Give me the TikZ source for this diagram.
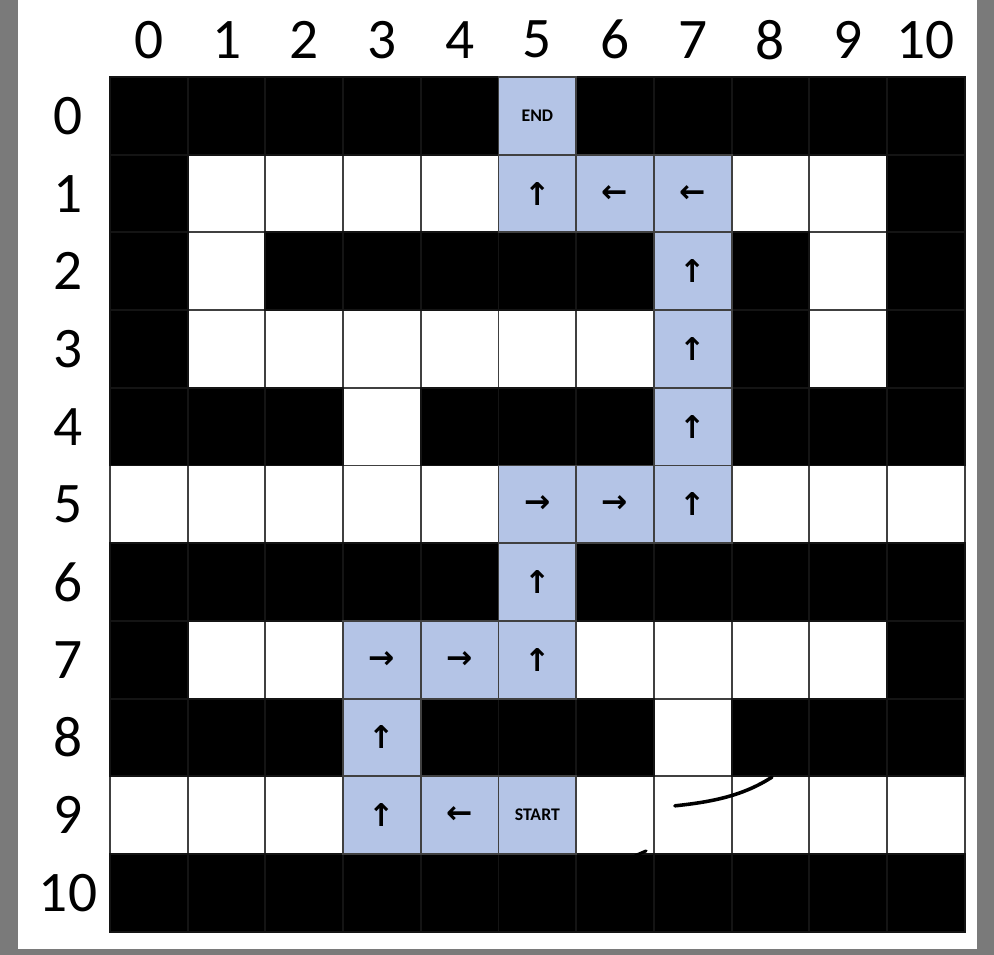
\documentclass[tikz,border=0pt]{standalone}
\usepackage{fontspec}
\setmainfont{Carlito}
\newfontfamily\arrowfont{DejaVu Sans}
\usepackage{xcolor}
\definecolor{pathblue}{HTML}{B4C4E6}
\definecolor{framegray}{HTML}{7A7A7A}

\begin{document}
\begin{tikzpicture}[
          x=1cm, y=-1cm,
          cell/.style={draw=black!75, line width=0.7pt, minimum size=1cm, inner sep=0pt, outer sep=0pt},
          free/.style={cell, fill=white},
          wall/.style={cell, draw=black!92, fill=black},
          route/.style={cell, fill=pathblue, font=\arrowfont\bfseries\fontsize{11.5}{12}\selectfont},
          tag/.style={route, font=\bfseries\fontsize{6.5}{7}\selectfont},
          idx/.style={font=\fontsize{21}{24}\selectfont}
      ]
        % Frame
        \useasboundingbox (-1.416,-0.991) rectangle (11.377,11.30);
        \fill[framegray] (-1.416,-0.991) rectangle (11.377,11.30);
        \fill[white] (-1.19,-0.991) rectangle (11.16,11.22);

        % Index labels
        \foreach \i in {0,...,10} {
          \node[idx] (col\i) at (\i+0.5,-0.48) {\i};
          \node[idx] (row\i) at (-0.54,\i+0.5) {\i};
        }

        % Open cells
        \foreach \r in {0,...,10} {
          \foreach \c in {0,...,10} {
            \node[free] (c-\r-\c) at (\c+0.5,\r+0.5) {};
          }
        }

        % Walls
        \foreach \r/\cols in {0/{0,1,2,3,4,6,7,8,9,10}, 1/{0,10}, 2/{0,2,3,4,5,6,8,10},
                              3/{0,8,10}, 4/{0,1,2,4,5,6,8,9,10}, 6/{0,1,2,3,4,6,7,8,9,10},
                              7/{0,10}, 8/{0,1,2,4,5,6,8,9,10}, 10/{0,1,2,3,4,5,6,7,8,9,10}} {
          \foreach \c in \cols {
            \node[wall] (c-\r-\c) at (\c+0.5,\r+0.5) {};
          }
        }

        % Route from START to END
        \foreach \r/\c/\sym in {1/5/{↑}, 1/6/{←}, 1/7/{←}, 2/7/{↑}, 3/7/{↑}, 4/7/{↑},
                                5/5/{→}, 5/6/{→}, 5/7/{↑}, 6/5/{↑}, 7/3/{→}, 7/4/{→},
                                7/5/{↑}, 8/3/{↑}, 9/3/{↑}, 9/4/{←}} {
          \node[route] (c-\r-\c) at (\c+0.5,\r+0.5) {\sym};
        }
        \node[tag] (goal) at (5.5,0.5) {END};
        \node[tag] (start) at (5.5,9.5) {START};

        % Pen strokes
        \draw[line width=1.3pt, line cap=round] (7.27,9.38) .. controls (7.75,9.33) and (8.15,9.25) .. (8.52,9.01);
        \draw[line width=1.1pt, line cap=round] (6.76,10.02) -- (6.90,9.96);
      \end{tikzpicture}
\end{document}
